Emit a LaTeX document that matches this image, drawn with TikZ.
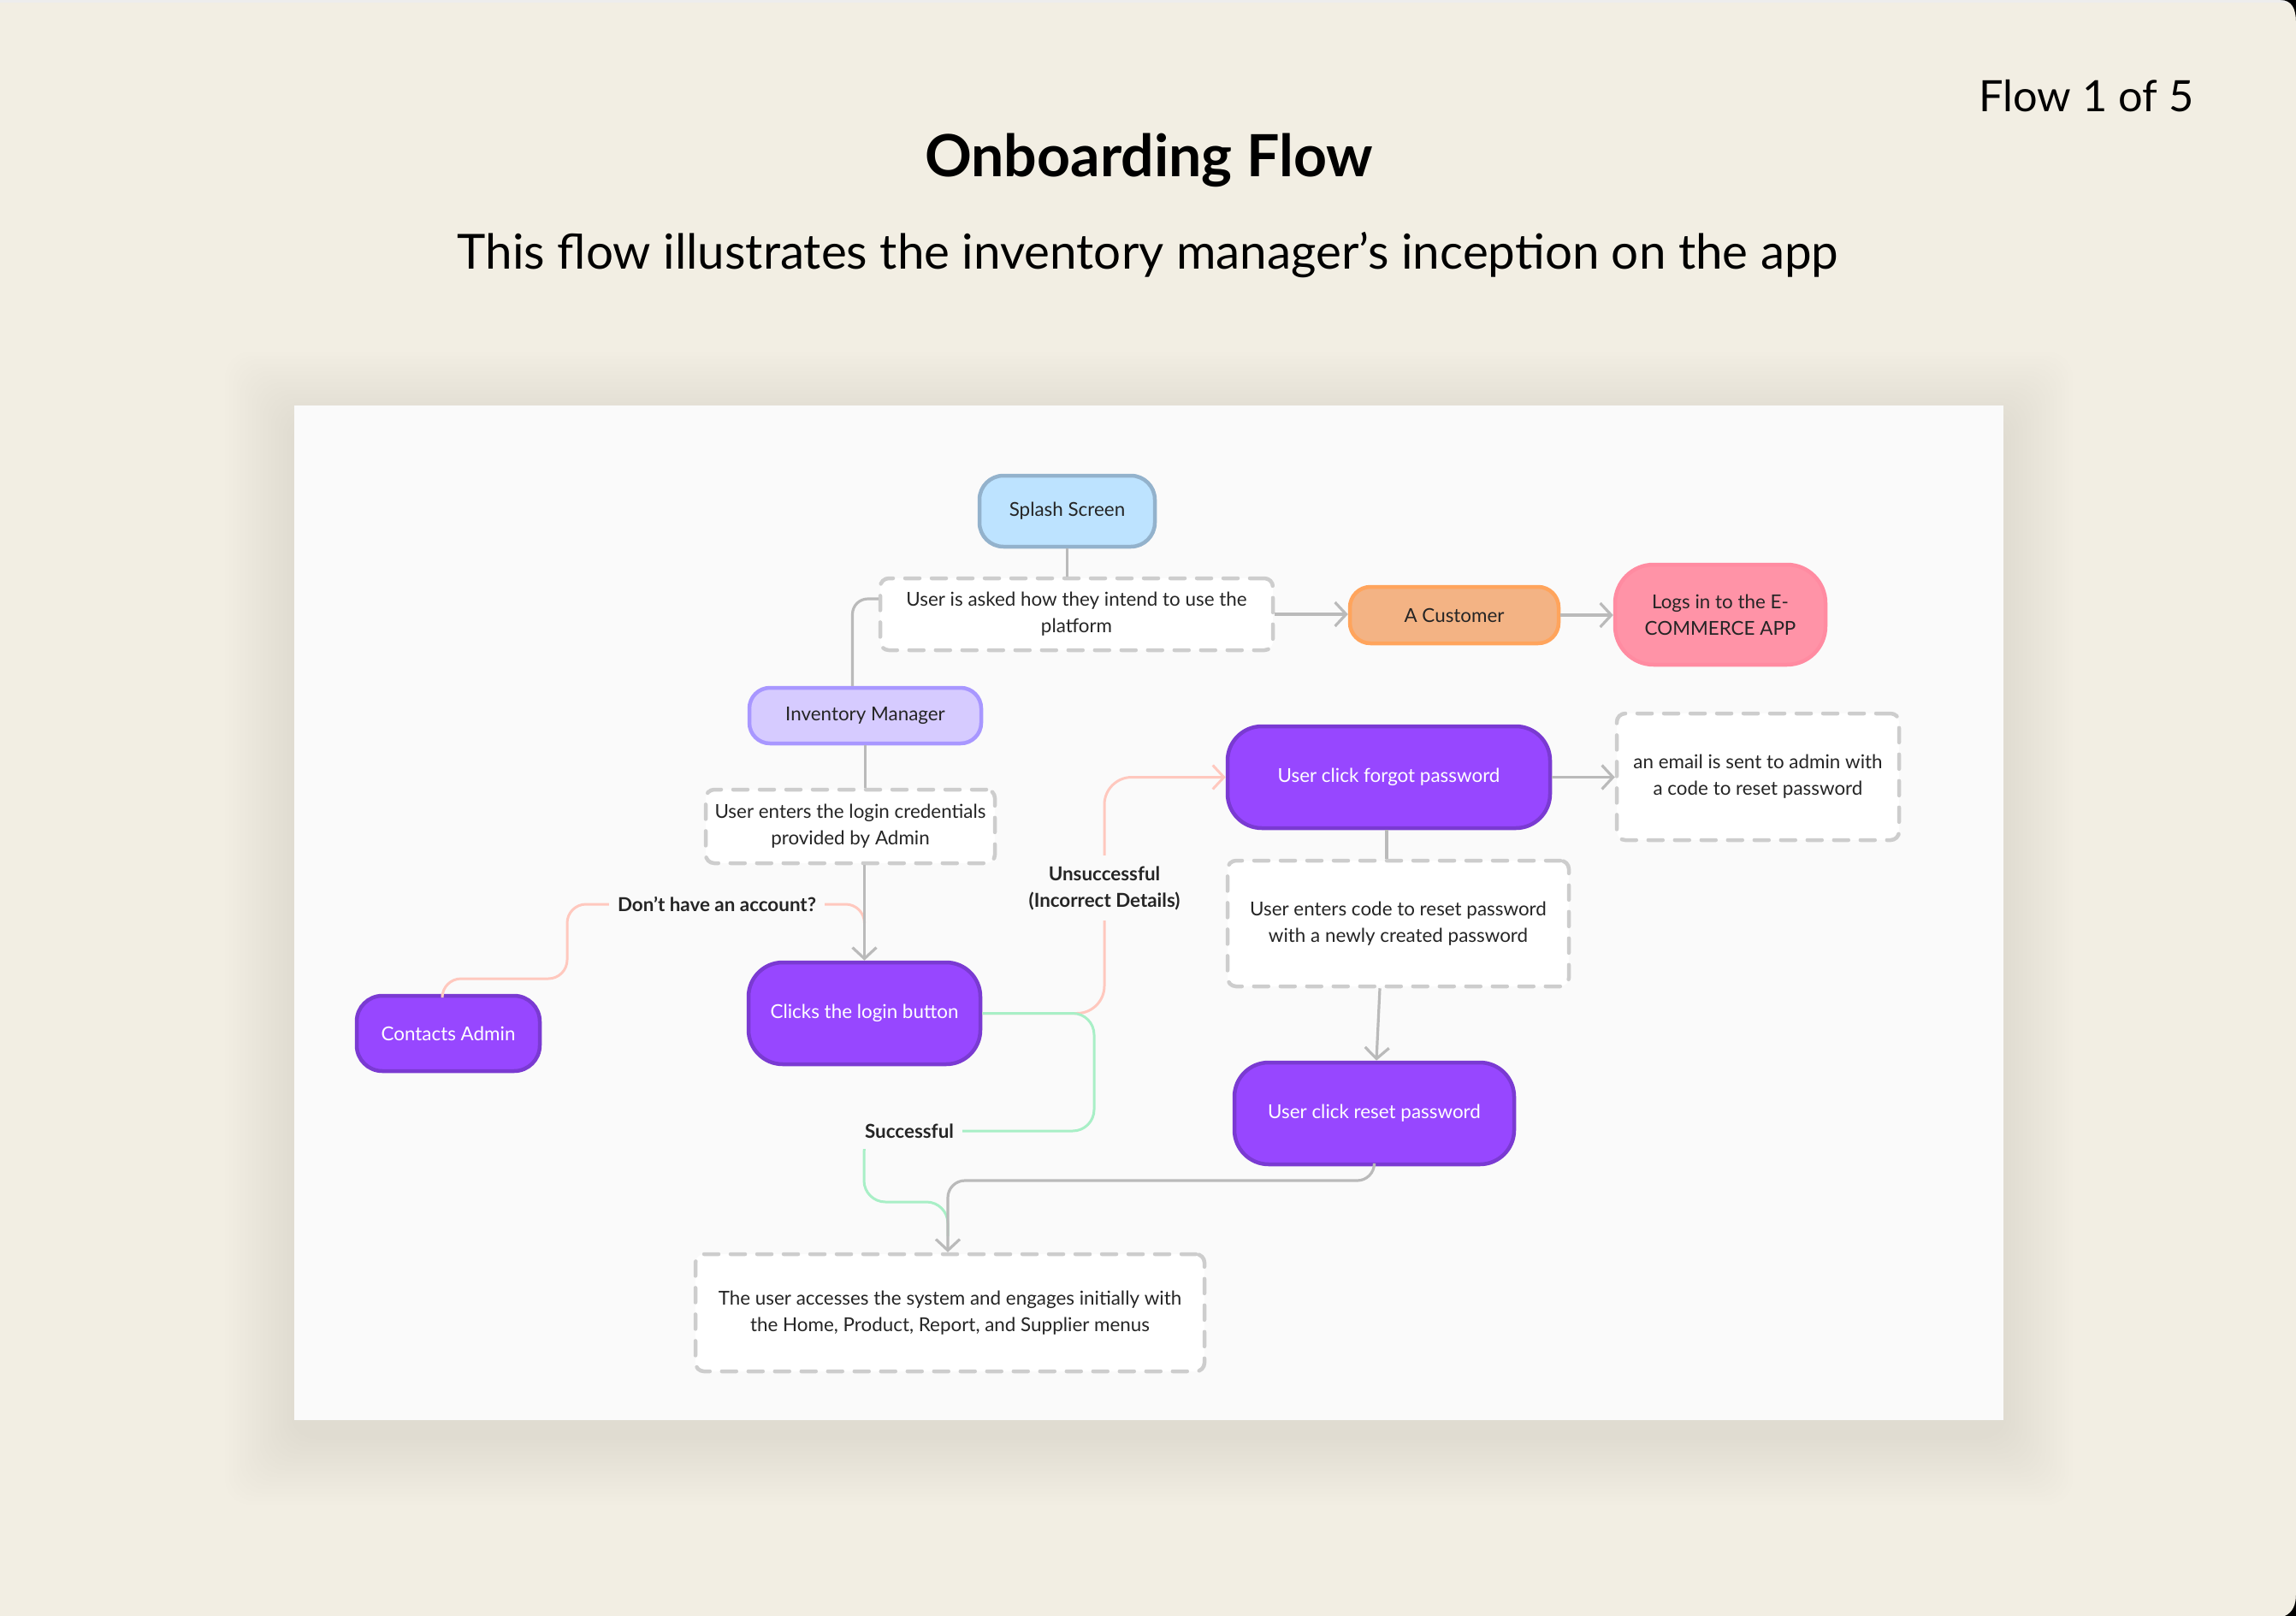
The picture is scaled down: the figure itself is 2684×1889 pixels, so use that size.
\documentclass[tikz,border=0pt]{standalone}
\usepackage{fontspec}
\setmainfont{Lato}
\usetikzlibrary{arrows.meta,calc}
\definecolor{bg}{HTML}{F2EEE3}
\definecolor{panel}{HTML}{FAFAFA}
\definecolor{shadowc}{HTML}{7A6A40}
\definecolor{splashF}{HTML}{BDE3FF}
\definecolor{splashD}{HTML}{93B2CC}
\definecolor{custF}{HTML}{F3B384}
\definecolor{custD}{HTML}{FFA45C}
\definecolor{logsF}{HTML}{FF93A7}
\definecolor{logsD}{HTML}{FF8BA1}
\definecolor{invF}{HTML}{D6CBFF}
\definecolor{invD}{HTML}{A897FF}
\definecolor{purF}{HTML}{9747FF}
\definecolor{purD}{HTML}{7A3AD2}
\definecolor{dashc}{HTML}{CDCDCD}
\definecolor{linec}{HTML}{BABABA}
\definecolor{pinkc}{HTML}{FFC8BE}
\definecolor{greenc}{HTML}{A8EFC6}
\definecolor{txt}{HTML}{252525}
\newcommand\nf{\fontsize{22.4}{31}\selectfont}
\begin{document}
\begin{tikzpicture}[x=1pt,y=-1pt,
  every node/.style={inner sep=0pt, align=center, font=\nf, text=txt},
  pill/.style={draw, line width=4.5pt, rounded corners=#1},
  purplebox/.style={pill=40pt, fill=purF, draw=purD, text=white},
  dbox/.style={draw=dashc, fill=white, line width=4.5pt, rounded corners=10pt, dash pattern=on 17pt off 14pt, line cap=round},
  conn/.style={draw=linec, line width=3.2pt},
  arr/.style={conn, -{Straight Barb[length=13pt,width=28pt]}},
  pinkline/.style={draw=pinkc, line width=3pt},
  greenline/.style={draw=greenc, line width=3pt},
  lbl/.style={font=\nf\bfseries, fill=panel, text=txt},
]
% background
\fill[bg] (0,0) rectangle (2684,1889);
\useasboundingbox (0,0) rectangle (2684,1889);
\fill[black!7] (0,0) rectangle (2684,3);
\fill[black] (2666,0) -- (2684,0) -- (2684,26) .. controls (2684,10) and (2679,0) .. (2666,0) -- cycle;
\fill[black] (2684,1864) -- (2684,1889) -- (2671,1889) .. controls (2680,1885) and (2684,1876) .. (2684,1864) -- cycle;
% shadow + panel
\foreach \i in {1,...,18}{
  \fill[shadowc, opacity=0.0045, rounded corners=30pt] ({344-4.5*\i},{474-4.5*\i+18}) rectangle ({2342+4.5*\i},{1660+4.5*\i+18});
}
\fill[panel] (344,474) rectangle (2342,1660);
% titles
\node[font=\fontsize{68}{74}\selectfont\bfseries, text=black, anchor=base] (title) at (1343,207) {Onboarding Flow};
\node[font=\fontsize{56.5}{62}\selectfont, text=black, anchor=base] (sub) at (1342,314) {This flow illustrates the inventory manager’s inception on the app};
\node[font=\fontsize{50.5}{56}\selectfont, text=black, anchor=base west] (flowno) at (2313,131) {Flow 1 of 5};
% nodes
\node[pill=28pt, fill=splashF, draw=splashD, minimum width=205pt, minimum height=83pt] (splash) at (1247.5,597.5) {Splash Screen};
\node[dbox, minimum width=459pt, minimum height=84pt] (ask) at (1258.5,718) {User is asked how they intend to use the\\platform};
\node[pill=24pt, fill=custF, draw=custD, minimum width=244pt, minimum height=66pt] (cust) at (1700,719) {A Customer};
\node[pill=45pt, fill=logsF, draw=logsD, minimum width=246pt, minimum height=117pt] (logs) at (2011,718.5) {Logs in to the E-\\COMMERCE APP};
\node[pill=24pt, fill=invF, draw=invD, minimum width=271pt, minimum height=65pt] (inv) at (1011.5,836.5) {Inventory Manager};
\node[dbox, minimum width=338pt, minimum height=86pt] (cred) at (994,966) {User enters the login credentials\\provided by Admin};
\node[purplebox, minimum width=271pt, minimum height=119pt] (login) at (1010.5,1184.5) {Clicks the login button};
\node[purplebox, rounded corners=30pt, minimum width=214pt, minimum height=88pt] (contacts) at (524,1208) {Contacts Admin};
\node[purplebox, minimum width=377pt, minimum height=119pt] (forgot) at (1623.5,908.5) {User click forgot password};
\node[dbox, minimum width=330pt, minimum height=148pt] (email) at (2055,908) {an email is sent to admin with\\a code to reset password};
\node[dbox, minimum width=399pt, minimum height=147pt] (code) at (1634.5,1079.5) {User enters code to reset password\\with a newly created password};
\node[purplebox, minimum width=327pt, minimum height=119pt] (reset) at (1606.5,1301.5) {User click reset password};
\node[dbox, minimum width=595pt, minimum height=137pt] (final) at (1110.5,1534.5) {The user accesses the system and engages initially with\\the Home, Product, Report, and Supplier menus};
% connectors
\draw[conn] (splash.south) -- (splash.south |- ask.north);
\draw[conn, rounded corners=18pt] ($(ask.west)+(0,-18)$) -| ($(inv.north)+(-15,0)$);
\draw[conn] (inv.south) -- (inv.south |- cred.north);
\draw[arr] (ask.east) -- (ask.east -| cust.west);
\draw[arr] (cust.east) -- (cust.east -| logs.west);
\draw[arr] (forgot.east) -- (forgot.east -| email.west);
\coordinate (fs) at ($(forgot.south)+(-2.5,0)$);
\draw[conn] (fs) -- (fs |- code.north);
\draw[arr] ($(code.south)+(-21.5,0)$) -- ($(reset.north)+(2.5,0)$);
% don't have an account (pink)
\coordinate (pk1) at (663,1144);
\coordinate (pk2) at (663,1057);
\draw[pinkline, rounded corners=22pt] ($(contacts.north)+(-7,0)$) |- (pk1) -- (pk2) -- (login.north |- pk2) -- ($(login.north |- pk2)+(0,20)$);
\draw[arr] (login.north |- cred.south) -- (login.north);
% unsuccessful (pink)
\coordinate (un1) at (1291,1184.5);
\coordinate (un2) at (1291,908.5);
\draw[pinkline, rounded corners=32pt, -{Straight Barb[length=13pt,width=28pt]}] (login.east) -- (un1) -- (un2) -- (forgot.west);
% successful (green)
\coordinate (g1) at (1279,1184.5);
\coordinate (g2) at (1279,1322);
\coordinate (g3) at (1010,1322);
\coordinate (g4) at (1010,1405);
\coordinate (g5) at (1108,1405);
\coordinate (g6) at (1108,1445);
\draw[greenline, rounded corners=25pt] (login.east) -- (g1) -- (g2) -- (g3) -- (g4) -- (g5) -- (g6);
% reset -> final
\coordinate (fa) at (1108,1380);
\draw[arr, rounded corners=20pt] (reset.south) |- (fa) -- (fa |- final.north);
% labels
\node[lbl, inner xsep=10pt, inner ysep=6pt] (dha) at (838,1057) {Don’t have an account?};
\node[lbl, inner xsep=4pt, inner ysep=12pt] (uns) at (1291,1038) {Unsuccessful\\(Incorrect Details)};
\node[lbl, inner xsep=10pt, inner ysep=13pt] (succ) at (1063,1322) {Successful};
\end{tikzpicture}
\end{document}
